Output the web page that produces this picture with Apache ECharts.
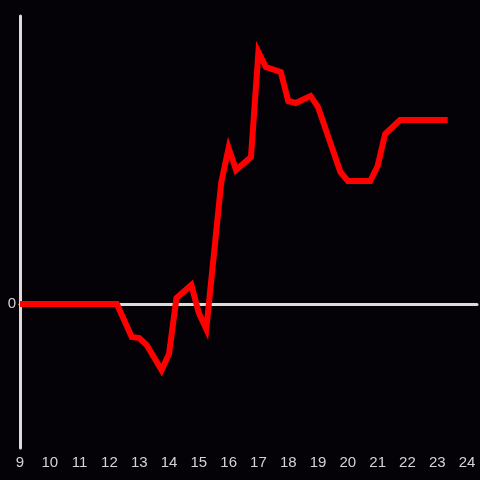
<!DOCTYPE html>
<html>
<head>
<meta charset="utf-8">
<style>html,body{margin:0;padding:0;background:#040206;}#c{width:480px;height:480px;}</style>
<script src="https://cdn.jsdelivr.net/npm/echarts@6/dist/echarts.min.js"></script>
</head>
<body>
<div id="c"></div>
<script>
var hours = [9, 12.25, 12.75, 13, 13.25, 13.75, 14, 14.25, 14.75, 15, 15.25, 15.75, 16, 16.25, 16.75, 17, 17.25, 17.75, 18, 18.25, 18.75, 19, 19.75, 20, 20.75, 21, 21.25, 21.75, 23.35];
var values = [0, 0, -33, -34, -41, -66, -50, 6, 19, -9, -25, 121, 156, 134, 147, 252, 237, 232, 203, 201, 208, 197, 132, 123, 123, 138, 170, 184, 184];
var yTickLabels = ['0'];

var data = hours.map(function (h, i) { return [h, values[i]]; });
var chart = echarts.init(document.getElementById('c'));
chart.setOption({
  backgroundColor: '#040206',
  animation: false,
  grid: { left: 20, right: 0, top: 16, bottom: 32 },
  xAxis: [{
    type: 'value', min: 9, max: 24.3333, interval: 1,
    position: 'bottom',
    axisLine: { show: false, onZero: false },
    axisTick: { show: false },
    splitLine: { show: false },
    axisLabel: { color: '#d4d4d4', fontSize: 15, margin: 7, fontFamily: 'Liberation Sans',
      formatter: function (v) { return Number.isInteger(v) ? String(v) : ''; } }
  }, {
    type: 'value', min: 9, max: 24.3333, interval: 1,
    position: 'bottom',
    axisLine: { show: true, onZero: true, lineStyle: { color: '#dcdcdc', width: 3 } },
    axisTick: { show: false },
    splitLine: { show: false },
    axisLabel: { show: false }
  }],
  yAxis: {
    type: 'value', min: -144, max: 288, interval: 144,
    axisLine: { show: true, lineStyle: { color: '#dcdcdc', width: 3 } },
    axisTick: { show: false },
    splitLine: { show: false },
    axisLabel: { color: '#d4d4d4', fontSize: 15, margin: 4, fontFamily: 'Liberation Sans',
      formatter: function (v) { return yTickLabels.indexOf(String(v)) >= 0 ? String(v) : ''; } }
  },
  series: [{
    type: 'line', data: data, xAxisIndex: 0, showSymbol: false, symbol: 'none',
    z: 5,
    lineStyle: { color: '#ff0000', width: 6, join: 'miter', cap: 'butt' }
  }]
});
</script>
</body>
</html>
